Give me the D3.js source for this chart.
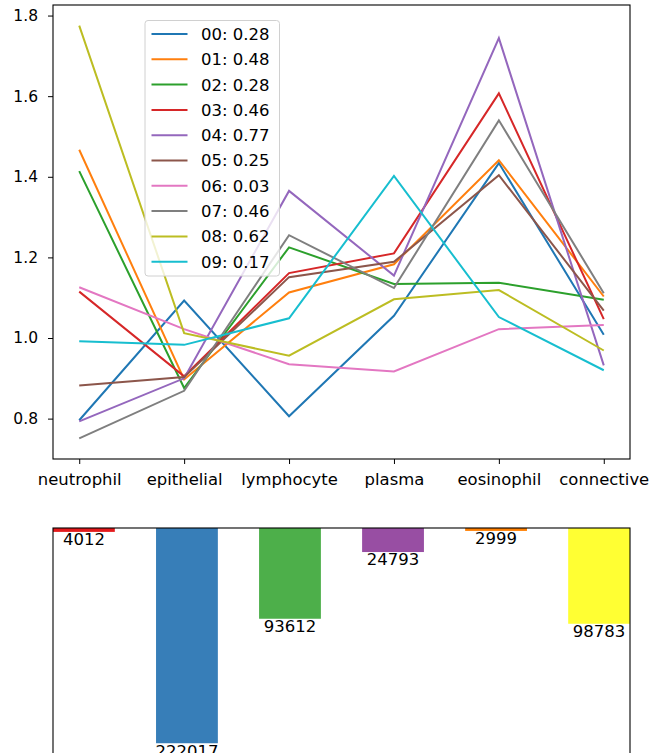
<!DOCTYPE html>
<html>
<head>
<meta charset="utf-8">
<script src="https://cdn.jsdelivr.net/npm/d3@7"></script>
<style>
  html, body { margin: 0; padding: 0; background: #fff; }
  svg { display: block; font-family: "DejaVu Sans", sans-serif; }
</style>
</head>
<body>
<svg id="chart" width="664" height="753"></svg>
<script>
// ---------- data ----------
const categories = ["neutrophil", "epithelial", "lymphocyte", "plasma", "eosinophil", "connective"];
const seriesNames = ["00: 0.28", "01: 0.48", "02: 0.28", "03: 0.46", "04: 0.77",
                     "05: 0.25", "06: 0.03", "07: 0.46", "08: 0.62", "09: 0.17"];
const s00 = [0.796, 1.093, 0.806, 1.055, 1.434, 1.008];
const s01 = [1.467, 0.897, 1.113, 1.183, 1.441, 1.103];
const s02 = [1.414, 0.876, 1.225, 1.134, 1.137, 1.095];
const s03 = [1.115, 0.905, 1.161, 1.210, 1.607, 1.047];
const s04 = [0.793, 0.900, 1.365, 1.155, 1.744, 0.932];
const s05 = [0.882, 0.903, 1.151, 1.189, 1.404, 1.068];
const s06 = [1.126, 1.022, 0.935, 0.917, 1.022, 1.032];
const s07 = [0.751, 0.869, 1.255, 1.124, 1.540, 1.111];
const s08 = [1.775, 1.012, 0.956, 1.096, 1.119, 0.969];
const s09 = [0.992, 0.983, 1.049, 1.402, 1.052, 0.920];
const seriesValues = [s00, s01, s02, s03, s04, s05, s06, s07, s08, s09];
const lineColors = ["#1f77b4", "#ff7f0e", "#2ca02c", "#d62728", "#9467bd",
                    "#8c564b", "#e377c2", "#7f7f7f", "#bcbd22", "#17becf"];
const yTicks = [0.8, 1.0, 1.2, 1.4, 1.6, 1.8];

const counts = [4012, 222017, 93612, 24793, 2999, 98783];
const barColors = ["#e41a1c", "#377eb8", "#4daf4a", "#984ea3", "#ff7f00", "#ffff33"];

// ---------- layout ----------
const svg = d3.select("#chart");
const topBox = { left: 53, right: 630, top: 5, bottom: 459 };
const botBox = { left: 53, right: 630, top: 528, bottom: 754 };

// ---------- top line chart ----------
const x = d3.scaleLinear().domain([-0.25, categories.length - 1 + 0.25]).range([topBox.left, topBox.right]);
const allVals = seriesValues.flat();
const vmin = d3.min(allVals), vmax = d3.max(allVals), pad = (vmax - vmin) * 0.05;
const y = d3.scaleLinear().domain([vmin - pad, vmax + pad]).range([topBox.bottom, topBox.top]);

const gTop = svg.append("g");
const line = d3.line().x((d, i) => x(i)).y(d => y(d));
seriesValues.forEach((vals, k) => {
  gTop.append("path").datum(vals)
    .attr("d", line).attr("fill", "none")
    .attr("stroke", lineColors[k]).attr("stroke-width", 2)
    .attr("stroke-linejoin", "miter");
});

// frame
gTop.append("rect").attr("x", topBox.left).attr("y", topBox.top)
  .attr("width", topBox.right - topBox.left).attr("height", topBox.bottom - topBox.top)
  .attr("fill", "none").attr("stroke", "#000").attr("stroke-width", 1.1);

// axes
const yAxis = d3.axisLeft(y).tickValues(yTicks).tickFormat(d3.format(".1f")).tickSize(5).tickPadding(10);
const gy = gTop.append("g").attr("transform", `translate(${topBox.left},0)`).call(yAxis);
gy.select(".domain").remove();
gy.selectAll("text").attr("font-size", 15.5).attr("font-family", "DejaVu Sans").attr("fill", "#000");
gy.selectAll("line").attr("stroke", "#000");

const xAxis = d3.axisBottom(x).tickValues(d3.range(categories.length))
  .tickFormat(i => categories[i]).tickSize(5).tickPadding(10);
const gx = gTop.append("g").attr("transform", `translate(0,${topBox.bottom})`).call(xAxis);
gx.select(".domain").remove();
gx.selectAll("text").attr("font-size", 15.5).attr("font-family", "DejaVu Sans").attr("fill", "#000")
  .attr("transform", "scale(1.06,1)")
  .attr("x", function() { return 0; });
gx.selectAll("line").attr("stroke", "#000");

// legend
const leg = { x: 145, y: 20.5, w: 134.5, h: 255.5, row0: 34, step: 25.3 };
const gLeg = gTop.append("g");
gLeg.append("rect").attr("x", leg.x).attr("y", leg.y).attr("width", leg.w).attr("height", leg.h)
  .attr("rx", 3).attr("fill", "#fff").attr("fill-opacity", 0.8)
  .attr("stroke", "#d0d0d0").attr("stroke-width", 1);
seriesNames.forEach((name, k) => {
  const cy = leg.row0 + k * leg.step;
  gLeg.append("line").attr("x1", leg.x + 6.5).attr("x2", leg.x + 42.5)
    .attr("y1", cy).attr("y2", cy).attr("stroke", lineColors[k]).attr("stroke-width", 2);
  gLeg.append("text").attr("x", leg.x + 56).attr("y", cy).attr("dy", "0.36em")
    .attr("font-size", 16.5).attr("fill", "#000").text(name);
});

// ---------- bottom bar chart (hanging bars) ----------
const xb = d3.scaleLinear().domain([-0.3, categories.length - 1 + 0.3]).range([botBox.left, botBox.right]);
const yb = d3.scaleLinear().domain([0, d3.max(counts) * 1.05]).range([botBox.top, botBox.bottom]);
const gBot = svg.append("g");
const bw = xb(0.6) - xb(0);
gBot.selectAll("rect.bar").data(counts).enter().append("rect")
  .attr("class", "bar")
  .attr("x", (d, i) => xb(i) - bw / 2).attr("y", yb(0))
  .attr("width", bw).attr("height", d => yb(d) - yb(0))
  .attr("fill", (d, i) => barColors[i]);
gBot.selectAll("text.lbl").data(counts).enter().append("text")
  .attr("class", "lbl")
  .attr("x", (d, i) => xb(i)).attr("y", d => yb(d) + 13.4)
  .attr("text-anchor", "middle").attr("font-size", 16.5).attr("fill", "#000")
  .text(d => d);
gBot.append("rect").attr("x", botBox.left).attr("y", botBox.top)
  .attr("width", botBox.right - botBox.left).attr("height", botBox.bottom - botBox.top)
  .attr("fill", "none").attr("stroke", "#000").attr("stroke-width", 1.1);
</script>
</body>
</html>
